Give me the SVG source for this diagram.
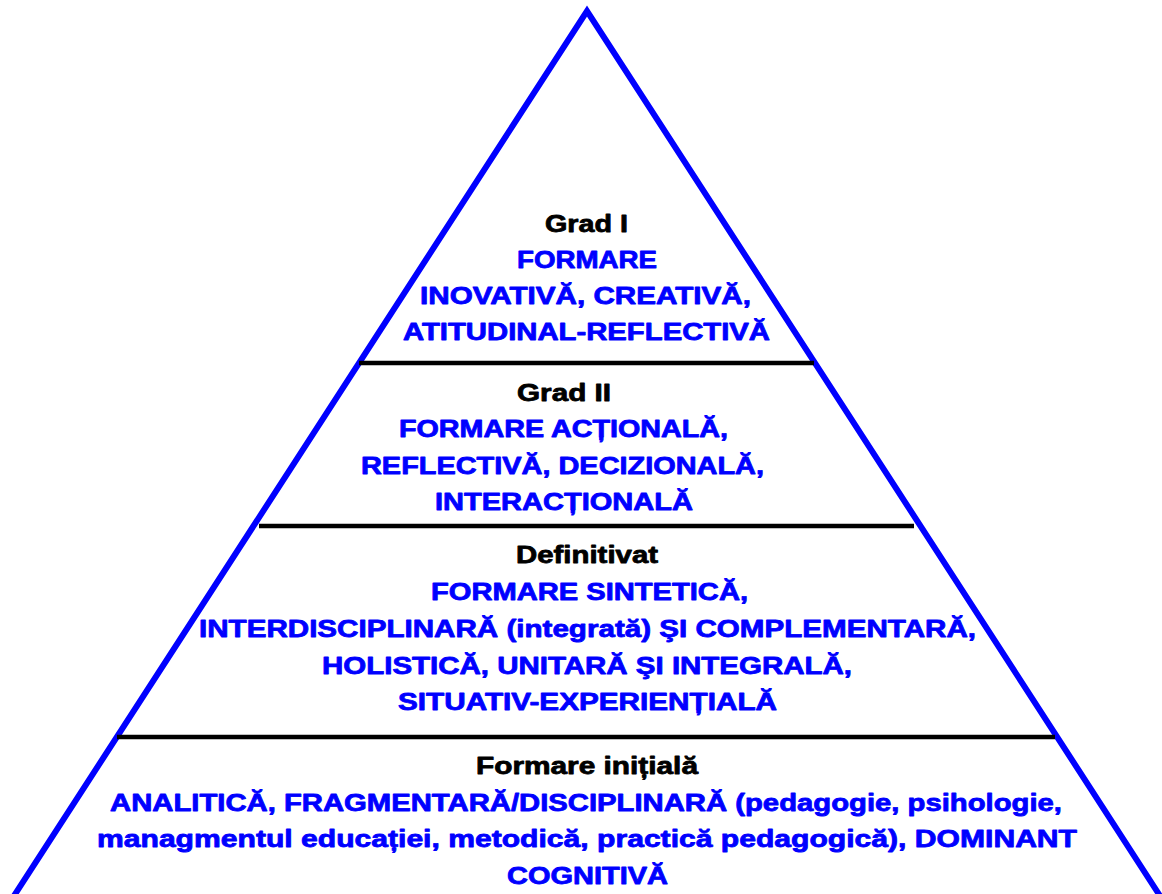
<svg xmlns="http://www.w3.org/2000/svg" width="1162" height="894" viewBox="0 0 1162 894">
<style>
text{font-family:"Liberation Sans",Arial,sans-serif;font-weight:bold;font-size:24px;stroke-width:0.8;stroke-linejoin:round}
.h{fill:#000;stroke:#000}
.d{fill:#0000FF;stroke:#0000FF}
.tri{fill:none;stroke:#0000FF;stroke-width:6;stroke-linejoin:miter;stroke-miterlimit:10}
.div{stroke:#000;stroke-width:4.5}
</style>
<rect width="1162" height="894" fill="#fff"/>
<g id="pyramid">
<polyline class="tri" points="10,902 587,11 1164,902"/>
</g>
<g id="connectors">
<line class="div" x1="359" y1="363" x2="814" y2="363"/>
<line class="div" x1="259" y1="526" x2="914" y2="526"/>
<line class="div" x1="117" y1="737" x2="1055" y2="737"/>
</g>
<g id="grad1">
<text class="h" x="545" y="232" textLength="83" lengthAdjust="spacingAndGlyphs">Grad I</text>
<text class="d" x="517" y="268" textLength="140" lengthAdjust="spacingAndGlyphs">FORMARE</text>
<text class="d" x="420" y="304" textLength="331" lengthAdjust="spacingAndGlyphs">INOVATIVĂ, CREATIVĂ,</text>
<text class="d" x="403" y="340" textLength="367" lengthAdjust="spacingAndGlyphs">ATITUDINAL-REFLECTIVĂ</text>
</g>
<g id="grad2">
<text class="h" x="517" y="401" textLength="94" lengthAdjust="spacingAndGlyphs">Grad II</text>
<text class="d" x="399" y="437" textLength="329" lengthAdjust="spacingAndGlyphs">FORMARE ACȚIONALĂ,</text>
<text class="d" x="361" y="474" textLength="403" lengthAdjust="spacingAndGlyphs">REFLECTIVĂ, DECIZIONALĂ,</text>
<text class="d" x="435" y="510" textLength="258" lengthAdjust="spacingAndGlyphs">INTERACȚIONALĂ</text>
</g>
<g id="definitivat">
<text class="h" x="516" y="563" textLength="142" lengthAdjust="spacingAndGlyphs">Definitivat</text>
<text class="d" x="431" y="600" textLength="317" lengthAdjust="spacingAndGlyphs">FORMARE SINTETICĂ,</text>
<text class="d" x="199" y="637" textLength="777" lengthAdjust="spacingAndGlyphs">INTERDISCIPLINARĂ (integrată) ŞI COMPLEMENTARĂ,</text>
<text class="d" x="322" y="674" textLength="530" lengthAdjust="spacingAndGlyphs">HOLISTICĂ, UNITARĂ ŞI INTEGRALĂ,</text>
<text class="d" x="398" y="710" textLength="379" lengthAdjust="spacingAndGlyphs">SITUATIV-EXPERIENȚIALĂ</text>
</g>
<g id="formare-initiala">
<text class="h" x="476" y="774" textLength="222" lengthAdjust="spacingAndGlyphs">Formare inițială</text>
<text class="d" x="110" y="811" textLength="952" lengthAdjust="spacingAndGlyphs">ANALITICĂ, FRAGMENTARĂ/DISCIPLINARĂ (pedagogie, psihologie,</text>
<text class="d" x="97" y="847" textLength="980" lengthAdjust="spacingAndGlyphs">managmentul educației, metodică, practică pedagogică), DOMINANT</text>
<text class="d" x="507" y="884" textLength="161" lengthAdjust="spacingAndGlyphs">COGNITIVĂ</text>
</g>
</svg>
